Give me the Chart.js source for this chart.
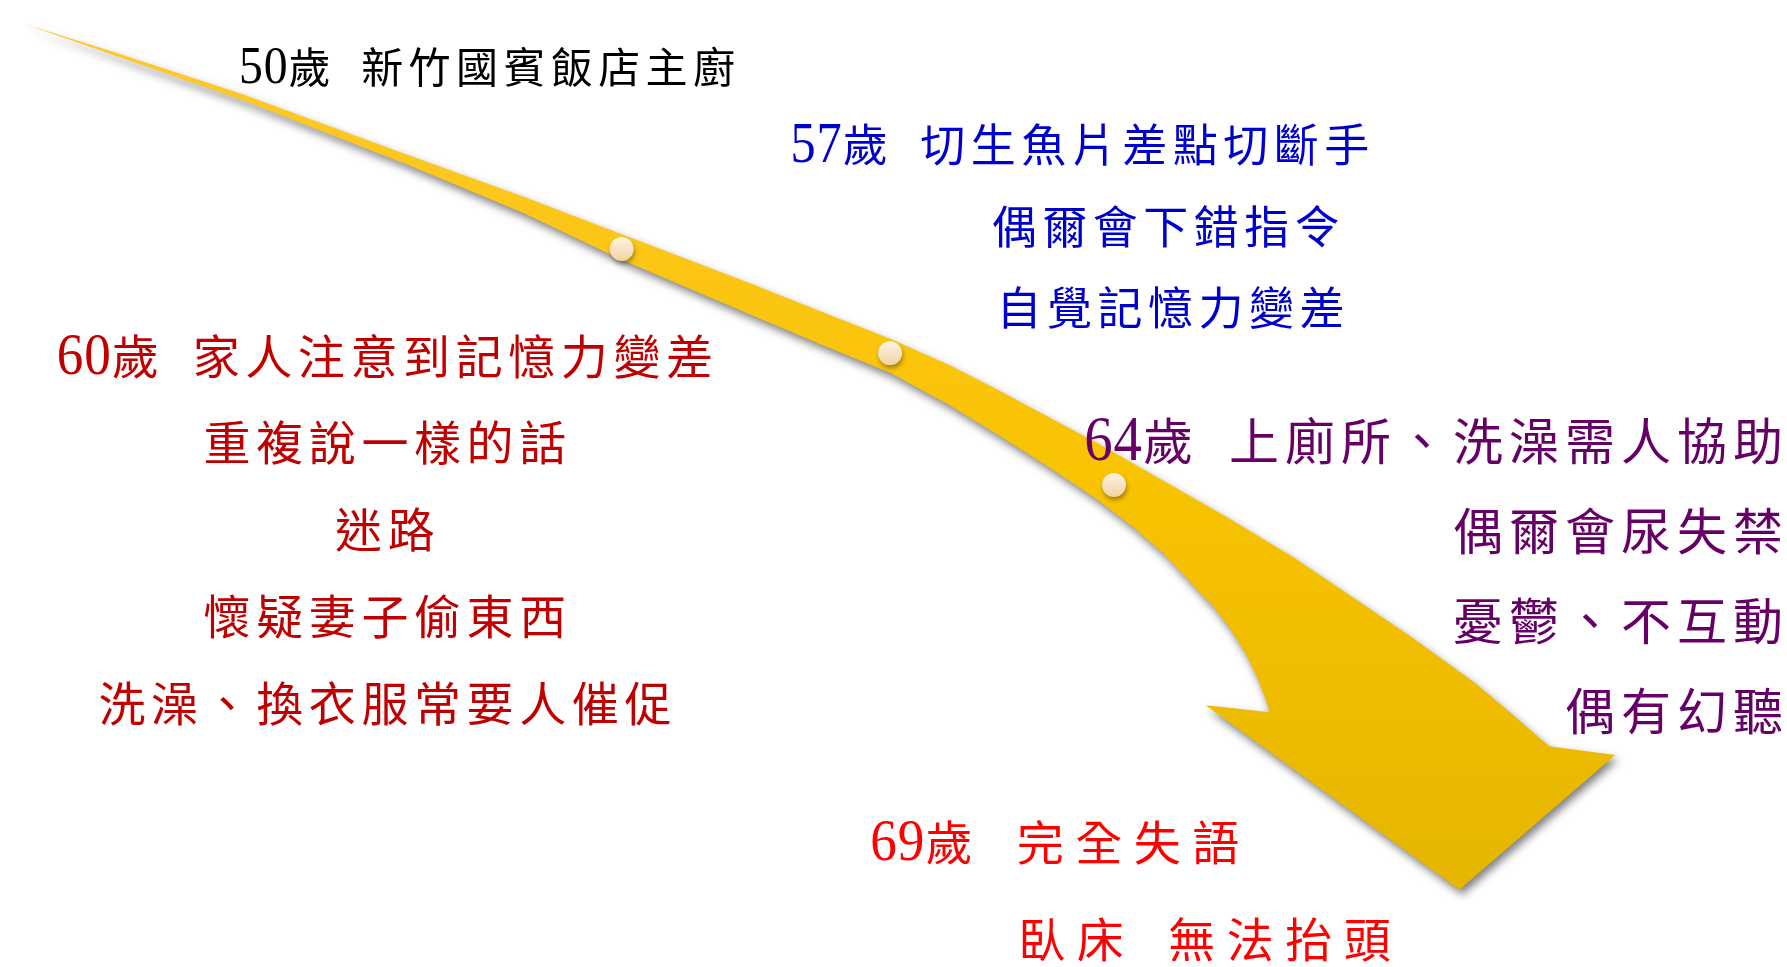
<!DOCTYPE html>
<html>
<head>
<meta charset="utf-8">
<script src="https://cdn.jsdelivr.net/npm/chart.js@4"></script>
<style>
  html, body { margin: 0; padding: 0; background: #fff; }
  #wrap { width: 1787px; height: 967px; position: relative; }
</style>
</head>
<body>
<div id="wrap"><canvas id="chart"></canvas></div>
<script>
// timeline data
const ages = [50, 57, 60, 64, 69];
const events = [
    ["新竹國賓飯店主廚"],
    ["切生魚片差點切斷手", "偶爾會下錯指令", "自覺記憶力變差"],
    ["家人注意到記憶力變差", "重複說一樣的話", "迷路", "懷疑妻子偷東西", "洗澡、換衣服常要人催促"],
    ["上廁所、洗澡需人協助", "偶爾會尿失禁", "憂鬱、不互動", "偶有幻聽"],
    ["完全失語", "臥床 無法抬頭"]
];
const groupColors = ["#000000", "#0000CC", "#C00000", "#660066", "#FF0000"];

// arrow outline (clockwise from tail tip)
const arrowX = [12, 100, 233, 400, 520, 618, 750, 820, 890, 950, 1000, 1050, 1100, 1233, 1300, 1417, 1483, 1517, 1558, 1625, 1467, 1210,
    1275, 1270, 1262, 1250, 1233, 1217, 1190, 1167, 1135, 1100, 1050, 1000, 950, 890, 820, 750, 618, 520, 400, 233, 100, 12];
const arrowY = [12, 40, 84, 146, 190, 228, 279, 307, 335, 362, 388, 415, 442, 519, 560, 640, 688, 717, 753, 762, 900, 711,
    718, 703, 682, 657, 630, 609, 580, 555, 527, 500, 466, 434, 403, 370, 341, 311, 254, 207, 156, 90, 43, 12];

// milestone dots on the arrow
const dotX = [618, 890, 1117];
const dotY = [243, 350, 485];

// where each group of text sits
const textLayout = [
    { x: [230], align: "left", y: 57, gap: 0, size: 42, spacing: 5.4, space: 0.6 },
    { x: [789, 993, 998], align: "left", y: 137, gap: 83.5, size: 45, spacing: 5.5, space: 0.6 },
    { x: [378], align: "center", y: 353, gap: 89, size: 47, spacing: 5.6, space: 0.6 },
    { x: [1795], align: "right", y: 440, gap: 92.3, size: 50, spacing: 6, space: 0.6 },
    { x: [870, 1020], align: "left", y: 852, gap: 99, size: 47, spacing: 11.5, space: 0.7 }
];

function drawLine(ctx, text, x, cy, lay) {
    const size = lay.size, spacing = lay.spacing;
    const cjk = size + 'px "Noto Sans CJK TC", "Noto Sans CJK JP", sans-serif';
    const num = Math.round(size * 1.25) + 'px "Liberation Serif", serif';
    const items = [...text].map((ch) => {
        if (ch === " ") return { ch, w: size * lay.space, skip: true };
        const isNum = /[0-9]/.test(ch);
        ctx.font = isNum ? num : cjk;
        const w = ctx.measureText(ch).width * (isNum ? 0.9 : 1);
        return { ch, isNum, w: w + (isNum ? 1 : spacing) };
    });
    const total = items.reduce((s, it) => s + it.w, 0) - spacing;
    let cx = lay.align === "left" ? x : lay.align === "right" ? x - total : x - total / 2;
    const base = cy + size * 0.37;
    items.forEach((it) => {
        if (!it.skip) {
            ctx.save();
            ctx.font = it.isNum ? num : cjk;
            ctx.translate(cx, base);
            if (it.isNum) ctx.scale(0.9, 1);
            ctx.fillText(it.ch, 0, 0);
            ctx.restore();
        }
        cx += it.w;
    });
}

const shadowPlugin = {
    id: "shadows",
    beforeDatasetsDraw(chart) {
        const ctx = chart.ctx;
        ctx.shadowColor = "rgba(0,0,0,0.5)";
        ctx.shadowBlur = 8;
        ctx.shadowOffsetX = 3;
        ctx.shadowOffsetY = 5;
    },
    beforeDatasetDraw(chart, args) {
        if (args.index === 0) {
            const ctx = chart.ctx;
            ctx.shadowColor = "rgba(0,0,0,0.35)";
            ctx.shadowBlur = 4;
            ctx.shadowOffsetX = 1;
            ctx.shadowOffsetY = 3;
        }
    },
    afterDatasetsDraw(chart) {
        const ctx = chart.ctx;
        ctx.shadowColor = "rgba(0,0,0,0)";
        ctx.shadowBlur = 0;
        ctx.shadowOffsetX = 0;
        ctx.shadowOffsetY = 0;
    }
};

const textPlugin = {
    id: "timelineText",
    afterDraw(chart) {
        const ctx = chart.ctx;
        const xs = chart.scales.x;
        const ys = chart.scales.y;
        ctx.save();
        ctx.textAlign = "left";
        ctx.textBaseline = "alphabetic";
        ages.forEach((age, g) => {
            const lay = textLayout[g];
            ctx.fillStyle = groupColors[g];
            events[g].forEach((ev, i) => {
                const text = i === 0 ? age + "歲 " + ev : ev;
                const px = xs.getPixelForValue(lay.x[Math.min(i, lay.x.length - 1)]);
                const py = ys.getPixelForValue(lay.y + i * lay.gap);
                drawLine(ctx, text, px, py, lay);
            });
        });
        ctx.restore();
    }
};

function arrowFill(context) {
    const area = context.chart.chartArea;
    if (!area) return "#F5C000";
    const g = context.chart.ctx.createLinearGradient(0, area.top, 0, area.bottom);
    g.addColorStop(0, "#FFC92B");
    g.addColorStop(0.5, "#F8C300");
    g.addColorStop(1, "#E3B300");
    return g;
}

function dotFill(context) {
    const chart = context.chart;
    if (!chart.chartArea || context.raw === undefined) return "#FBE6C6";
    const y = chart.scales.y.getPixelForValue(context.raw.y);
    const g = chart.ctx.createLinearGradient(0, y - 12, 0, y + 12);
    g.addColorStop(0, "#FFF4E4");
    g.addColorStop(1, "#F2D2A2");
    return g;
}

const ctx = document.getElementById("chart").getContext("2d");
new Chart(ctx, {
    type: "scatter",
    data: {
        datasets: [
            {
                label: "milestones",
                data: dotX.map((x, i) => ({ x, y: dotY[i] })),
                pointRadius: 12,
                pointHoverRadius: 12,
                pointBorderWidth: 0,
                pointBackgroundColor: dotFill,
                showLine: false,
                order: 1
            },
            {
                label: "arrow",
                type: "line",
                data: arrowX.map((x, i) => ({ x, y: arrowY[i] })),
                fill: "shape",
                backgroundColor: arrowFill,
                borderWidth: 0,
                borderColor: "rgba(0,0,0,0)",
                pointRadius: 0,
                tension: 0,
                order: 2
            }
        ]
    },
    options: {
        responsive: true,
        maintainAspectRatio: false,
        animation: false,
        events: [],
        layout: { padding: 0 },
        plugins: {
            legend: { display: false },
            tooltip: { enabled: false }
        },
        scales: {
            x: { type: "linear", min: 0, max: 1787, display: false },
            y: { type: "linear", min: 0, max: 967, reverse: true, display: false }
        }
    },
    plugins: [shadowPlugin, textPlugin]
});
</script>
</body>
</html>
